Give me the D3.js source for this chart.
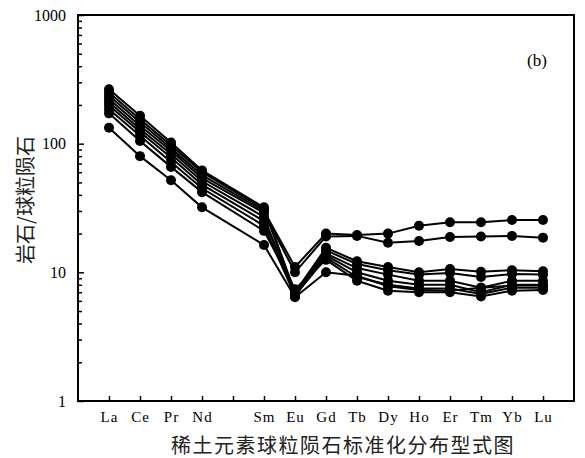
<!DOCTYPE html>
<html>
<head>
<meta charset="utf-8">
<script src="https://cdn.jsdelivr.net/npm/d3@7"></script>
<style>
  body { margin: 0; background: #fff; }
  .tick text { font-family: "Liberation Serif", serif; }
</style>
</head>
<body>
<div id="chart"></div>
<script>
// REE elements (Pm has a tick but no label / no data)
var elements = ["La", "Ce", "Pr", "Nd", "Pm", "Sm", "Eu", "Gd", "Tb", "Dy", "Ho", "Er", "Tm", "Yb", "Lu"]
var yTicks = [1, 10, 100, 1000]

// chondrite normalised values, one array per sample (null = Pm)
var s1 = [265, 165, 102, 62, null, 32, 7.0, 15.5, 12.2, 11.0, 10.0, 10.6, 10.1, 10.4, 10.2]
var s2 = [250, 155, 97, 60, null, 31, 6.8, 14.8, 11.6, 10.4, 9.6, 9.9, 9.2, 9.7, 9.6]
var s3 = [236, 147, 92, 57, null, 30, 11.0, 20.0, 19.5, 20.0, 23.0, 24.5, 24.5, 25.5, 25.5]
var s4 = [222, 138, 88, 54, null, 29, 10.0, 19.0, 19.2, 17.0, 17.5, 18.8, 19.0, 19.2, 18.6]
var s5 = [210, 130, 83, 51, null, 27, 6.5, 14.0, 10.8, 9.6, 8.6, 8.6, 7.6, 8.6, 8.6]
var s6 = [198, 123, 78, 48, null, 25, 7.2, 13.5, 10.0, 8.6, 8.0, 8.0, 7.0, 8.0, 8.0]
var s7 = [185, 115, 72, 45, null, 23, 6.6, 13.0, 9.2, 8.0, 7.5, 7.5, 6.8, 7.6, 7.6]
var s8 = [172, 105, 66, 42, null, 21, 7.4, 12.5, 8.6, 7.2, 7.0, 7.0, 6.5, 7.2, 7.3]
var s9 = [133, 80, 52, 32, null, 16.3, 6.4, 10.0, 9.4, 7.8, 7.3, 7.2, 7.6, 7.9, 7.9]
var samples = [s1, s2, s3, s4, s5, s6, s7, s8, s9]

var width = 585, height = 458
var margin = {top: 15, right: 11, bottom: 57, left: 78}

var svg = d3.select("#chart").append("svg")
    .attr("width", width)
    .attr("height", height)

var x = d3.scalePoint()
    .domain(elements)
    .range([margin.left, width - margin.right])
    .padding(1)

var y = d3.scaleLog()
    .domain([1, 1000])
    .range([height - margin.bottom, margin.top])

// minor ticks 2..9 in every decade
var minor = []
yTicks.slice(0, -1).forEach(function(d) {
  for (var k = 2; k <= 9; k++) minor.push(d * k)
})

svg.append("g")
    .attr("transform", "translate(" + margin.left + ",0)")
    .call(d3.axisLeft(y).tickValues(minor).tickSize(-4).tickFormat(""))
    .call(function(g) { g.select(".domain").remove() })
    .selectAll("line").attr("stroke-width", 1.5)

svg.append("g")
    .attr("transform", "translate(" + margin.left + ",0)")
    .call(d3.axisLeft(y).tickValues(yTicks).tickSize(-6).tickPadding(12)
      .tickFormat(d3.format("d")))
    .call(function(g) { g.select(".domain").remove() })
    .call(function(g) {
      g.selectAll("line").attr("stroke-width", 1.5)
      g.selectAll("text").attr("font-size", 16)
    })

svg.append("g")
    .attr("transform", "translate(0," + (height - margin.bottom) + ")")
    .call(d3.axisBottom(x).tickSize(-5).tickPadding(10)
      .tickFormat(function(d) { return d == "Pm" ? "" : d }))
    .call(function(g) { g.select(".domain").remove() })
    .call(function(g) {
      g.selectAll("line").attr("stroke-width", 1.5)
      g.selectAll("text").attr("font-size", 15).attr("letter-spacing", 1)
    })

// frame
svg.append("rect")
    .attr("x", margin.left)
    .attr("y", margin.top)
    .attr("width", width - margin.left - margin.right)
    .attr("height", height - margin.top - margin.bottom)
    .attr("fill", "none")
    .attr("stroke", "#000")
    .attr("stroke-width", 2)

// turn a sample into points, skipping Pm so Nd joins Sm
function points(d) {
  return d.map(function(v, i) { return {el: elements[i], v: v} })
          .filter(function(p) { return p.v != null })
}

var line = d3.line()
    .x(function(p) { return x(p.el) })
    .y(function(p) { return y(p.v) })

var grp = svg.selectAll(".sample")
    .data(samples)
    .enter()
    .append("g")
    .attr("class", "sample")

grp.append("path")
    .attr("d", function(d) { return line(points(d)) })
    .attr("fill", "none")
    .attr("stroke", "#000")
    .attr("stroke-width", 2)

grp.selectAll("circle")
    .data(points)
    .enter()
    .append("circle")
    .attr("cx", function(p) { return x(p.el) })
    .attr("cy", function(p) { return y(p.v) })
    .attr("r", 5)
    .attr("fill", "#000")

svg.append("text")
    .attr("x", 537)
    .attr("y", 66)
    .attr("text-anchor", "middle")
    .attr("font-family", "Liberation Serif, serif")
    .attr("font-size", 17)
    .text("(b)")

svg.append("text")
    .attr("transform", "translate(33,200) rotate(-90)")
    .attr("text-anchor", "middle")
    .attr("font-family", "Noto Sans CJK SC")
    .attr("font-size", 20)
    .attr("fill", "#222")
    .text("岩石/球粒陨石")

svg.append("text")
    .attr("x", 343)
    .attr("y", 453)
    .attr("text-anchor", "middle")
    .attr("font-family", "Noto Sans CJK SC")
    .attr("font-size", 20)
    .attr("letter-spacing", 1.5)
    .attr("fill", "#222")
    .text("稀土元素球粒陨石标准化分布型式图")
</script>
</body>
</html>
